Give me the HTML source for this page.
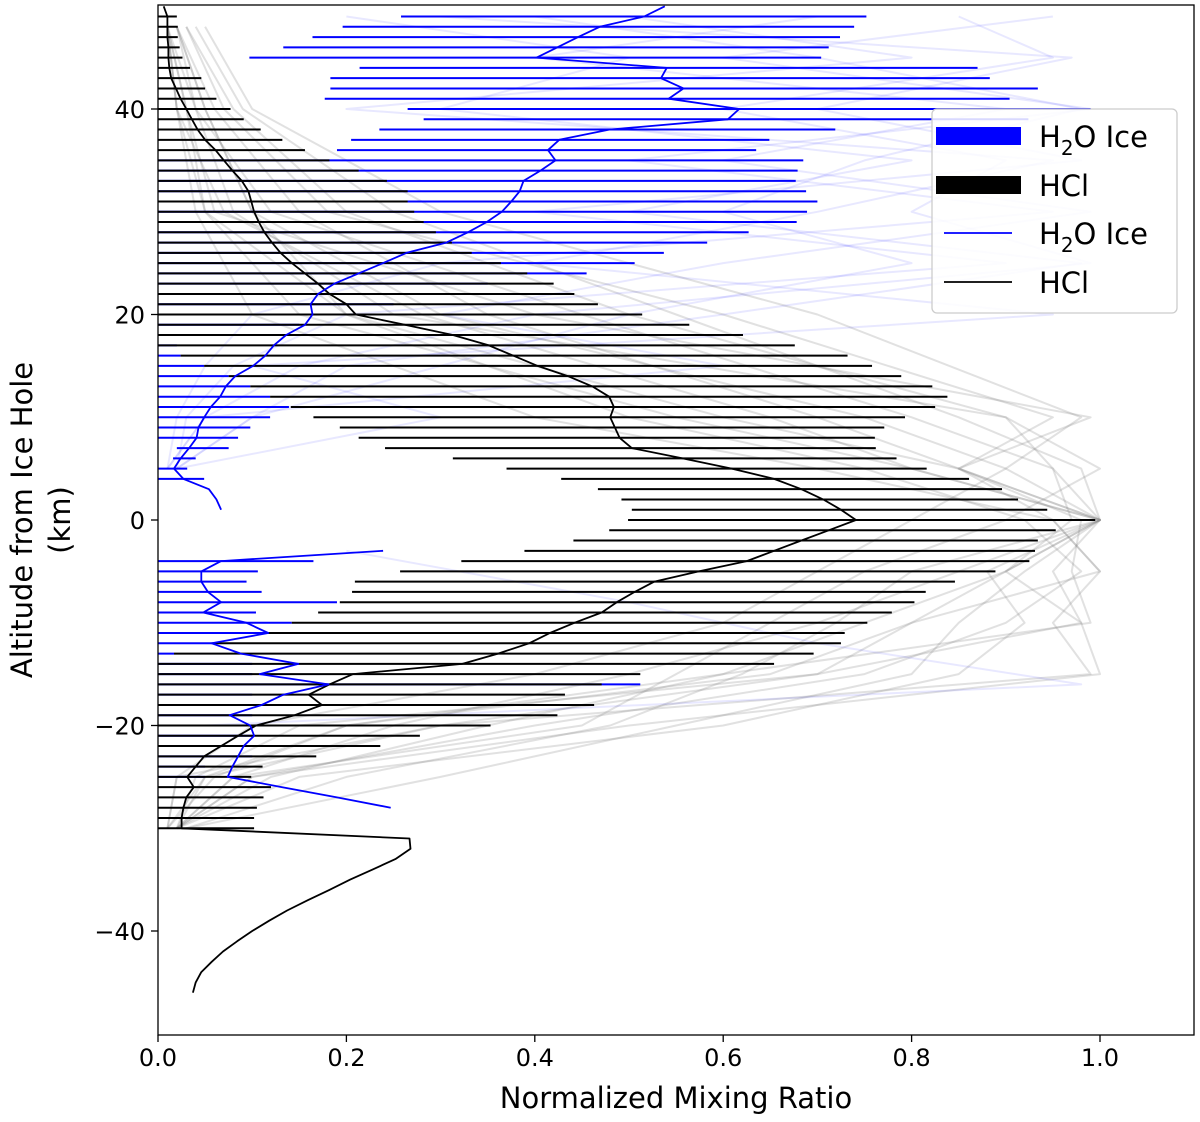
<!DOCTYPE html>
<html><head><meta charset="utf-8"><style>
body{margin:0;background:#fff;width:1200px;height:1122px;overflow:hidden;font-family:"Liberation Sans","DejaVu Sans",sans-serif;}
svg{display:block}
</style></head><body>
<svg id="chart" width="1200" height="1122" viewBox="0 0 1200 1122" font-family="DejaVu Sans, Liberation Sans, sans-serif">
<rect x="0" y="0" width="1200" height="1122" fill="#fff"/>
<g id="bg"></g>
<g id="bars"></g>
<g id="lines"></g>
<rect x="158" y="5" width="1036" height="1030" fill="none" stroke="#000" stroke-width="1.3"/>
<g id="axes"></g>
<text x="676" y="1108" font-size="29" text-anchor="middle">Normalized Mixing Ratio</text>
<g transform="translate(32,520) rotate(-90)">
<text x="0" y="0" font-size="29" text-anchor="middle">Altitude from Ice Hole</text>
<text x="0" y="38" font-size="29" text-anchor="middle">(km)</text>
</g>
<g>
<rect x="932" y="109" width="245" height="204" rx="5" fill="#fff" fill-opacity="0.85" stroke="#ccc" stroke-width="1.3"/>
<rect x="936" y="127" width="85" height="18" fill="#0000ff"/>
<text x="1039" y="147" font-size="29">H<tspan font-size="20" dy="8">2</tspan><tspan dy="-8">O Ice</tspan></text>
<rect x="936" y="176" width="85" height="18" fill="#000"/>
<text x="1039" y="196" font-size="29">HCl</text>
<line x1="944" y1="233" x2="1012" y2="233" stroke="#0000ff" stroke-width="1.8"/>
<text x="1039" y="244" font-size="29">H<tspan font-size="20" dy="8">2</tspan><tspan dy="-8">O Ice</tspan></text>
<line x1="944" y1="282" x2="1012" y2="282" stroke="#000" stroke-width="1.8"/>
<text x="1039" y="293" font-size="29">HCl</text>
</g>
</svg>
<script>
var alts = [49,48,47,46,45,44,43,42,41,40,39,38,37,36,35,34,33,32,31,30,29,28,27,26,25,24,23,22,21,20,19,18,17,16,15,14,13,12,11,10,9,8,7,6,5,4,3,2,1,0,-1,-2,-3,-4,-5,-6,-7,-8,-9,-10,-11,-12,-13,-14,-15,-16,-17,-18,-19,-20,-21,-22,-23,-24,-25,-26,-27,-28,-29,-30];
var hclMean = [.010,.010,.010,.011,.011,.012,.014,.019,.024,.030,.036,.042,.050,.061,.070,.079,.089,.096,.099,.102,.107,.113,.121,.130,.142,.156,.170,.182,.200,.210,.262,.313,.351,.377,.403,.435,.461,.479,.484,.480,.485,.490,.503,.557,.609,.654,.683,.706,.725,.741,.712,.683,.654,.625,.574,.527,.506,.487,.471,.442,.416,.394,.361,.323,.207,.182,.160,.174,.145,.104,.085,.067,.049,.040,.031,.038,.030,.027,.025,.025];
var hclLow = [0,0,0,0,0,0,0,0,0,0,0,0,0,0,0,0,0,0,0,0,0,0,0,0,0,0,0,0,0,0,0,0,0,.024,.049,.075,.098,.119,.141,.165,.193,.213,.241,.313,.370,.428,.467,.492,.503,.499,.479,.441,.389,.322,.257,.209,.206,.193,.170,.142,.114,.059,.017,0,0,0,0,0,0,0,0,0,0,0,0,0,0,0,0,0];
var hclHigh = [.020,.021,.021,.023,.026,.034,.046,.050,.062,.077,.091,.109,.132,.156,.182,.213,.243,.265,.265,.272,.282,.295,.312,.333,.364,.392,.420,.442,.467,.514,.564,.621,.676,.732,.758,.789,.822,.838,.825,.793,.771,.761,.762,.784,.816,.861,.896,.913,.944,.995,.953,.934,.931,.925,.889,.846,.815,.803,.779,.753,.729,.725,.696,.654,.512,.471,.432,.463,.424,.353,.278,.236,.168,.111,.099,.120,.112,.105,.102,.102];
var h2oMean = [.516,.469,.446,.424,.402,.540,.534,.558,.542,.617,.605,.479,.426,.414,.422,.406,.388,.384,.375,.365,.349,.329,.306,.264,.239,.213,.187,.170,.162,.164,.156,.136,.123,.114,.101,.082,.072,.066,.056,.049,.043,.041,.033,.024,.017,.027,.054,.062,.067,null,null,null,.239,.067,.046,.046,.053,.067,.048,.094,.117,.057,.088,.149,.108,.181,.133,.110,.076,.098,.102,.091,.085,.079,.074,.132,.190,.247,null,null];
var h2oLow = [.258,.196,.164,.133,.097,.214,.183,.183,.177,.265,.282,.235,.205,.190,0,0,0,0,0,0,0,0,0,0,0,0,0,0,0,0,0,0,0,0,0,0,0,0,0,0,0,0,.020,.016,0,0,null,null,null,null,null,null,null,0,0,0,0,0,0,0,0,0,0,0,0,0,0,0,0,0,0,0,0,0,0,null,null,null,null,null];
var h2oHigh = [.752,.739,.724,.712,.704,.870,.883,.934,.904,.990,.924,.719,.649,.635,.685,.679,.677,.688,.700,.689,.678,.627,.583,.537,.506,.455,.35,.30,.25,.20,.15,.10,.02,.024,.049,.075,.098,.119,.139,.119,.098,.085,.075,.040,.031,.049,null,null,null,null,null,null,null,.165,.106,.094,.110,.190,.104,.142,.114,.059,.017,.10,.10,.512,.10,.10,.10,.10,.10,.10,.10,.05,.05,null,null,null,null,null];
var topAlt = 50, hclTop = .006, h2oTop = .538;
var tailAlts = [-31,-32,-33,-34,-35,-36,-37,-38,-39,-40,-41,-42,-43,-44,-45,-46];
var hclTail = [.267,.268,.252,.228,.204,.182,.159,.137,.118,.100,.084,.069,.057,.046,.040,.037];
var profAlts = [48,40,30,20,10,5,0,-5,-10,-15,-20,-25,-30];
var grayProfiles = [
 [.01,.03,.05,.15,.55,.8,1.0,.9,.8,.7,.3,.05,.02],
 [.02,.05,.1,.3,.75,.9,1.0,.95,.98,1.0,.5,.1,.02],
 [.01,.02,.05,.2,.6,.85,.98,.97,.99,.6,.2,.05,.01],
 [.03,.08,.2,.5,.9,.95,1.0,.85,.7,.5,.25,.08,.02],
 [.01,.02,.04,.1,.4,.7,.95,1.0,.95,.99,.3,.02,.01],
 [.05,.1,.3,.7,.98,.9,.8,.7,.6,.4,.1,.02,.01],
 [.02,.04,.08,.25,.9,1.0,.9,.75,.65,.55,.45,.08,.02],
 [.01,.03,.06,.4,.99,.85,1.0,.9,.98,.7,.15,.04,.02],
 [.02,.06,.15,.35,.7,.85,1.0,.92,.85,.8,.55,.3,.03],
 [.01,.04,.12,.45,.8,.95,.97,.9,.75,.6,.35,.12,.02],
 [.03,.07,.18,.6,.95,.85,.95,1.0,.8,.65,.2,.06,.01],
 [.01,.02,.07,.28,.65,.8,1.0,.88,.92,.85,.6,.15,.02],
 [.02,.05,.1,.2,.5,.75,.92,.98,.9,.75,.4,.1,.02],
 [.04,.09,.25,.55,.85,.98,1.0,.8,.72,.62,.48,.2,.03]
];
var blueAlts = [49,45,40,35,30,25,20,15,10,5];
var blueProfiles = [
 [.95,.6,.99,.5,.95,.3,.1,.05,.02,.01],
 [.3,.97,.7,.98,.4,.9,.2,.08,.03,.02],
 [.7,.4,.9,.6,.99,.6,.3,.6,.05,.01],
 [.2,.5,.3,.8,.5,.98,.6,.2,.1,.02],
 [.5,.8,.2,.95,.7,.4,.95,.1,.3,.02],
 [.85,.95,.6,.9,.8,.99,.4,.15,.05,.01],
 [.4,.7,.98,.75,.6,.8,.5,.3,.1,.02]
];
var blueLowAlts = [-3,-8,-12,-16,-20];
var blueLowProfile = [.2,.5,.7,.98,.05];
var xTicks = [0,0.2,0.4,0.6,0.8,1.0];
var xTickLabels = ["0.0","0.2","0.4","0.6","0.8","1.0"];
var yTicks = [40,20,0,-20,-40];
var yTickLabels = ["40","20","0","\u221220","\u221240"];

var NS="http://www.w3.org/2000/svg";
function X(v){return 158+v*942;}
function Y(a){return 520-a*10.275;}
function mk(tag,parent){var e=document.createElementNS(NS,tag);parent.appendChild(e);return e;}
var bg=document.getElementById('bg'),bars=document.getElementById('bars'),lines=document.getElementById('lines'),axes=document.getElementById('axes');
function poly(parent,altArr,valArr,color,w,op){
  var segs=[],cur=[];
  for(var i=0;i<altArr.length;i++){
    if(valArr[i]===null){if(cur.length)segs.push(cur);cur=[];continue;}
    cur.push(X(valArr[i]).toFixed(1)+','+Y(altArr[i]).toFixed(1));
  }
  if(cur.length)segs.push(cur);
  var out=[];
  segs.forEach(function(s){
    var p=mk('polyline',parent);
    p.setAttribute('points',s.join(' '));
    p.setAttribute('fill','none');p.setAttribute('stroke',color);
    p.setAttribute('stroke-width',w);p.setAttribute('stroke-opacity',op);
    p.setAttribute('stroke-linejoin','round');
    out.push(p);
  });
  return out;
}
grayProfiles.forEach(function(pr){
  poly(bg,profAlts,pr,'#808080',2,0.24).forEach(function(p){
    
    
  });
});
blueProfiles.forEach(function(pr){
  poly(bg,blueAlts,pr,'#0000ff',2,0.09).forEach(function(p){
    
    
  });
});
poly(bg,blueLowAlts,blueLowProfile,'#0000ff',2,0.09).forEach(function(p){
  
  
});
function hbar(lo,hi,a,color,name){
  if(lo===null||hi===null)return;
  var l=mk('line',bars);
  l.setAttribute('x1',X(lo));l.setAttribute('x2',X(hi));
  l.setAttribute('y1',Y(a));l.setAttribute('y2',Y(a));
  l.setAttribute('stroke',color);l.setAttribute('stroke-width',2);
  
  
}
for(var i=0;i<alts.length;i++) hbar(h2oLow[i],h2oHigh[i],alts[i],'#0000ff','h2o-error-bar');
for(var i=0;i<alts.length;i++) hbar(hclLow[i],hclHigh[i],alts[i],'#000','hcl-error-bar');
var hA=[topAlt].concat(alts,tailAlts), hV=[hclTop].concat(hclMean,hclTail);
poly(lines,hA,hV,'#000',1.8,1).forEach(function(p){
  
  
});
var bA=[topAlt].concat(alts), bV=[h2oTop].concat(h2oMean);
poly(lines,bA,bV,'#0000ff',1.8,1).forEach(function(p){
  
  
});
xTicks.forEach(function(v,i){
  var t=mk('line',axes);t.setAttribute('x1',X(v));t.setAttribute('x2',X(v));t.setAttribute('y1',1035);t.setAttribute('y2',1042);t.setAttribute('stroke','#000');t.setAttribute('stroke-width',1.3);
  
  
  var tx=mk('text',axes);tx.setAttribute('x',X(v));tx.setAttribute('y',1066);tx.setAttribute('font-size',24);tx.setAttribute('text-anchor','middle');tx.textContent=xTickLabels[i];
  
  
});
yTicks.forEach(function(v,i){
  var t=mk('line',axes);t.setAttribute('x1',151);t.setAttribute('x2',158);t.setAttribute('y1',Y(v));t.setAttribute('y2',Y(v));t.setAttribute('stroke','#000');t.setAttribute('stroke-width',1.3);
  
  
  var tx=mk('text',axes);tx.setAttribute('x',145);tx.setAttribute('y',Y(v)+9);tx.setAttribute('font-size',24);tx.setAttribute('text-anchor','end');tx.textContent=yTickLabels[i];
  
  
});
</script>
</body></html>
